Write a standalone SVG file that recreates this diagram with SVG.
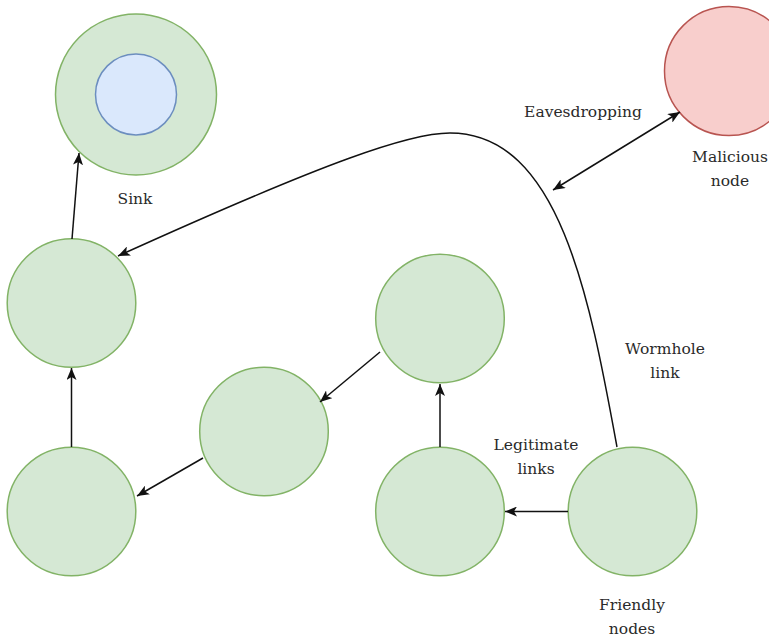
<svg xmlns="http://www.w3.org/2000/svg" width="769" height="637" viewBox="0 0 769 637">
  <style>
    .node { fill: #d5e8d4; stroke: #82b366; stroke-width: 1.5; }
    .core { fill: #dae8fc; stroke: #6c8ebf; stroke-width: 1.5; }
    .bad { fill: #f8cecc; stroke: #b85450; stroke-width: 1.5; }
    .link { fill: none; stroke: #111; stroke-width: 1.5; marker-end: url(#arrow); }
    .label { font-family: "DejaVu Serif", "Liberation Serif", serif; font-size: 15.5px; fill: #2a2a2a; text-anchor: middle; }
  </style>
  <defs>
    <marker id="arrow" viewBox="0 0 12 10" refX="12" refY="5" markerWidth="12" markerHeight="10" markerUnits="userSpaceOnUse" orient="auto-start-reverse">
      <path d="M0,0 L12,5 L0,10 L3,5 Z" fill="#111"/>
    </marker>
  </defs>
  <rect width="769" height="637" fill="#ffffff"/>

  <!-- nodes -->
  <g id="sink">
    <circle class="node" cx="136" cy="94.5" r="80.5"/>
    <circle class="core" cx="136" cy="94.5" r="40.5"/>
  </g>
  <g id="malicious">
    <circle class="bad" cx="729" cy="71" r="64.5"/>
  </g>
  <g id="node-a"><circle class="node" cx="71.5" cy="303" r="64.3"/></g>
  <g id="node-b"><circle class="node" cx="71.5" cy="511.5" r="64.3"/></g>
  <g id="node-c"><circle class="node" cx="264" cy="431.5" r="64.3"/></g>
  <g id="node-d"><circle class="node" cx="440" cy="318.5" r="64.3"/></g>
  <g id="node-e"><circle class="node" cx="440" cy="511.5" r="64.3"/></g>
  <g id="node-f">
    <circle class="node" cx="632.5" cy="511.5" r="64.3"/>
  </g>

  <!-- connectors -->
  <g id="connectors">
    <line class="link" x1="72" y1="239" x2="79" y2="153"/>
    <line class="link" x1="71.5" y1="447" x2="71.5" y2="368"/>
    <line class="link" x1="440" y1="447" x2="440" y2="384"/>
    <line class="link" x1="568" y1="511.5" x2="505" y2="511.5"/>
    <line class="link" x1="380" y1="352" x2="320" y2="402"/>
    <line class="link" x1="203" y1="458" x2="137" y2="496"/>
    <line class="link" x1="553" y1="190" x2="680" y2="112" marker-start="url(#arrow)"/>
    <path class="link" d="M617,447 C590,300 560,133 450,133 C410,133 330,160 118,256"/>
  </g>

  <!-- all labels -->
  <g id="labels">
    <text class="label" x="135" y="204">Sink</text>
    <text class="label" x="730" y="162">Malicious</text>
    <text class="label" x="730" y="186">node</text>
    <text class="label" x="632" y="610">Friendly</text>
    <text class="label" x="632" y="634">nodes</text>
    <text class="label" x="583" y="117">Eavesdropping</text>
    <text class="label" x="665" y="354">Wormhole</text>
    <text class="label" x="665" y="378">link</text>
    <text class="label" x="536" y="450">Legitimate</text>
    <text class="label" x="536" y="474">links</text>
  </g>
</svg>
